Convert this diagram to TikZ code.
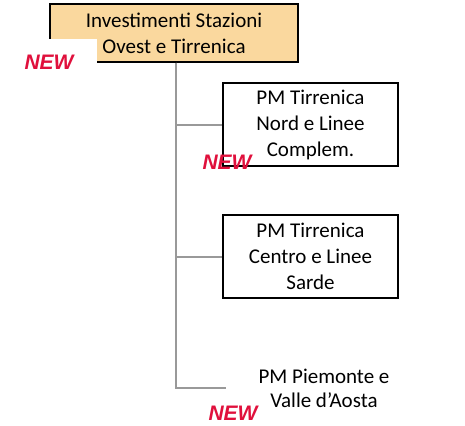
\documentclass[tikz,border=0pt]{standalone}
\usepackage{fontspec}
\setmainfont{Carlito}
\newfontfamily\tagfont{Liberation Sans}
\definecolor{boxfill}{HTML}{FAD89E}
\definecolor{linegray}{HTML}{999999}
\definecolor{tagred}{HTML}{E0103C}
\begin{document}
\begin{tikzpicture}[x=1pt,y=-1pt]

      \useasboundingbox (0,0) rectangle (465,425);

      \begin{scope}[every node/.style={draw=black, line width=1.4pt, inner sep=0pt,
          align=center, font=\fontsize{21}{26}\selectfont, minimum width=175pt, minimum height=83pt}]
        \node[fill=boxfill, minimum width=248pt, minimum height=58pt] (0) at (174,33)
          {Investimenti Stazioni\\Ovest e Tirrenica};
        \node (1) at (310.5,124.5) {PM Tirrenica\\Nord e Linee\\Complem.};
        \node (2) at (310.5,256.5) {PM Tirrenica\\Centro e Linee\\Sarde};
        \node[draw=none, font=\fontsize{21}{24}\selectfont] (3) at (324,388) {PM Piemonte e\\Valle d’Aosta};
      \end{scope}

      \coordinate (3w) at (226,388);

      \begin{scope}[every path/.style={draw=linegray, line width=2pt}]
        \draw ([xshift=1.5pt]0.south) |- (1.west);
        \draw ([xshift=1.5pt]0.south) |- (2.west);
        \draw ([xshift=1.5pt]0.south) |- (3w);
      \end{scope}

      \begin{scope}[every node/.style={text=tagred, font=\tagfont\bfseries\itshape\fontsize{21}{24}\selectfont}]
        \node[fill=white, minimum width=96pt, minimum height=46pt] (n0) at (49,62) {NEW};
        \node (n1) at (227,162) {NEW};
        \node (n3) at (233,413) {NEW};
      \end{scope}

    \end{tikzpicture}
\end{document}
